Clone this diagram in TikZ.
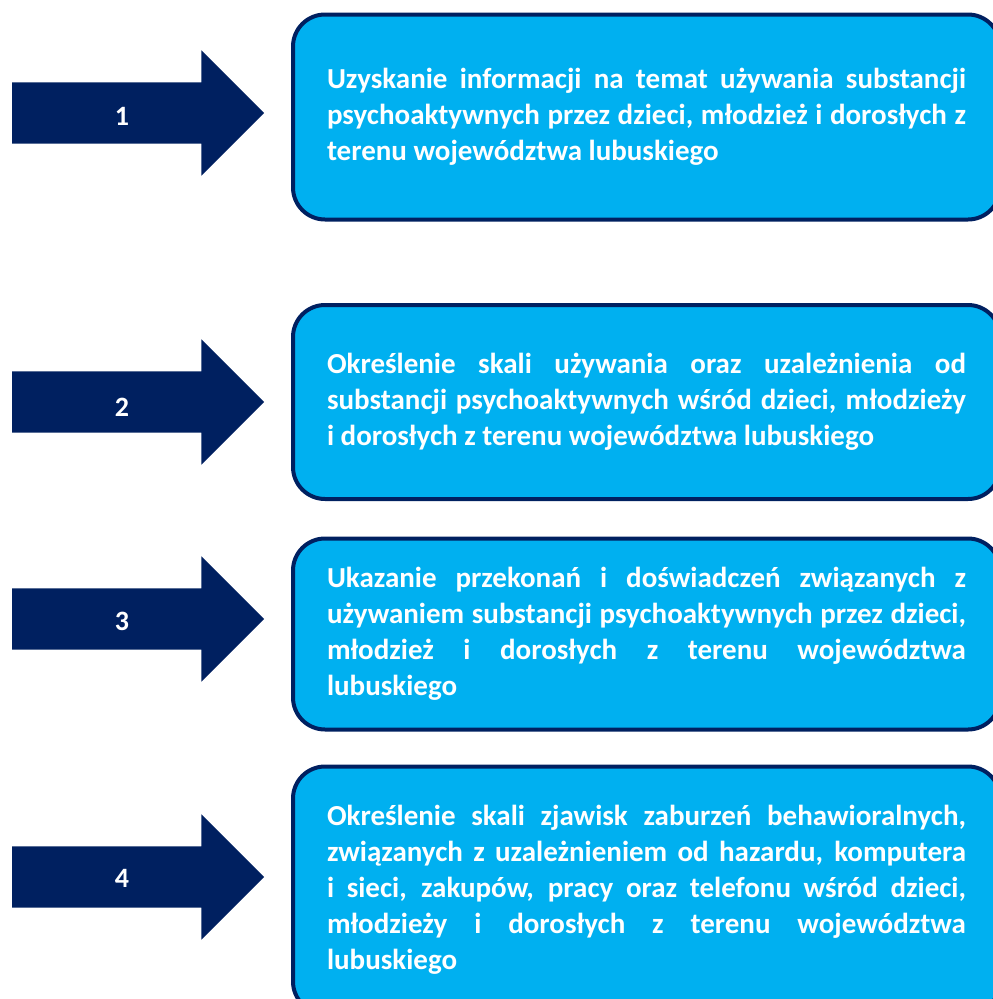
\documentclass[tikz,border=0pt]{standalone}
\usepackage{fontspec}
\setmainfont{Carlito}
\usetikzlibrary{shapes.arrows}
\definecolor{navy}{HTML}{002060}
\definecolor{skyfill}{HTML}{00B0F0}
\tikzset{
  goalarrow/.style = {single arrow, fill=navy, draw=none, inner xsep=0pt,
    inner ysep=30.5pt, minimum height=252pt, minimum width=125pt,
    single arrow head extend=32pt, single arrow head indent=0pt, anchor=tail},
  goalnum/.style = {text=white, font=\fontsize{28}{30}\selectfont\bfseries},
  goalbox/.style = {rectangle, rounded corners=32pt, draw=navy, line width=4pt,
    fill=skyfill, text=white, text width=639pt, inner xsep=34pt, align=justify,
    font=\fontsize{29}{36}\selectfont\bfseries}
}
\begin{document}
\begin{tikzpicture}[x=1pt, y=-1pt]
 \useasboundingbox (0,0) rectangle (993,999);
 % arrows with numbers
 \node[goalarrow] (a1) at (12,113) {};
 \node[goalarrow] (a2) at (12,402) {};
 \node[goalarrow] (a3) at (12,619) {};
 \node[goalarrow] (a4) at (12,877) {};
 \node[goalnum] (n1) at (122,116) {1};
 \node[goalnum] (n2) at (122,407) {2};
 \node[goalnum] (n3) at (122,621) {3};
 \node[goalnum] (n4) at (122,878) {4};
 % goal boxes
 \node[goalbox, minimum height=205pt] (g1) at (646.5,117)
    {Uzyskanie informacji na temat używania substancji\linebreak
     psychoaktywnych przez dzieci, młodzież i dorosłych z\linebreak
     terenu województwa lubuskiego};
 \node[goalbox, minimum height=194pt] (g2) at (646.5,402)
    {Określenie skali używania oraz uzależnienia od\linebreak
     substancji psychoaktywnych wśród dzieci, młodzieży\linebreak
     i dorosłych z terenu województwa lubuskiego};
 \node[goalbox, minimum height=191pt] (g3) at (646.5,634)
    {Ukazanie przekonań i doświadczeń związanych z\linebreak
     używaniem substancji psychoaktywnych przez dzieci,\linebreak
     młodzież i dorosłych z terenu województwa\linebreak
     lubuskiego};
 \node[goalbox, minimum height=247pt] (g4) at (646.5,890)
    {Określenie skali zjawisk zaburzeń behawioralnych,\linebreak
     związanych z uzależnieniem od hazardu, komputera\linebreak
     i sieci, zakupów, pracy oraz telefonu wśród dzieci,\linebreak
     młodzieży i dorosłych z terenu województwa\linebreak
     lubuskiego};
\end{tikzpicture}
\end{document}
